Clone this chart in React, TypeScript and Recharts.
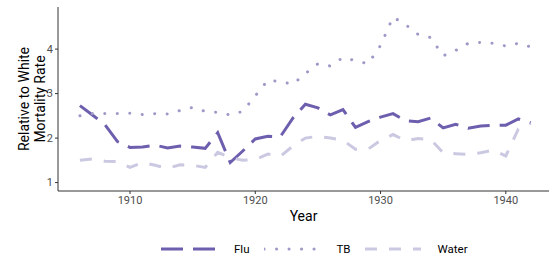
import { LineChart, Line, XAxis, YAxis, Legend } from "recharts";

const years = [
  1906, 1907, 1908, 1909, 1910, 1911, 1912, 1913, 1914, 1915, 1916, 1917, 1918,
  1919, 1920, 1921, 1922, 1923, 1924, 1925, 1926, 1927, 1928, 1929, 1930, 1931,
  1932, 1933, 1934, 1935, 1936, 1937, 1938, 1939, 1940, 1941, 1942,
];

const flu = [
  2.73, 2.52, 2.3, 1.92, 1.79, 1.8, 1.84, 1.78, 1.82, 1.8, 1.77, 2.12, 1.45,
  1.71, 1.98, 2.04, 2.03, 2.45, 2.76, 2.68, 2.52, 2.64, 2.24, 2.37, 2.47, 2.55,
  2.39, 2.37, 2.45, 2.23, 2.31, 2.22, 2.27, 2.29, 2.29, 2.43, 2.34,
];

const tb = [
  2.5, 2.55, 2.55, 2.55, 2.56, 2.53, 2.55, 2.54, 2.62, 2.69, 2.6, 2.58, 2.52,
  2.6, 2.95, 3.3, 3.27, 3.21, 3.45, 3.67, 3.62, 3.81, 3.74, 3.67, 4.08, 4.72,
  4.55, 4.33, 4.26, 3.85, 3.97, 4.13, 4.15, 4.13, 4.07, 4.13, 4.05,
];

const water = [
  1.5, 1.53, 1.48, 1.47, 1.34, 1.45, 1.39, 1.32, 1.4, 1.39, 1.34, 1.68, 1.56,
  1.5, 1.52, 1.64, 1.59, 1.82, 2.0, 2.04, 2.0, 1.95, 1.75, 1.75, 1.95, 2.08,
  1.94, 1.99, 1.97, 1.67, 1.65, 1.63, 1.67, 1.73, 1.6, 2.2, 2.33,
];

const xTicks = [1910, 1920, 1930, 1940];
const yTicks = [1, 2, 3, 4];

const series = [
  { key: "Flu", color: "#6E5EAE", dash: "22 10", cap: "butt" as const },
  { key: "TB", color: "#9E9AC8", dash: "0.1 12.4", cap: "round" as const },
  { key: "Water", color: "#CBC9E2", dash: "12 12", cap: "butt" as const },
];

const data = years.map((year, i) => ({
  year,
  Flu: flu[i],
  TB: tb[i],
  Water: water[i],
}));

const font = "Roboto, 'Liberation Sans', sans-serif";

function YLabel(props: any) {
  const { viewBox } = props;
  const cy = viewBox.y + viewBox.height / 2;
  return (
    <text
      transform={`translate(0, ${cy}) rotate(-90)`}
      textAnchor="middle"
      fontFamily={font}
      fontSize={14}
      fill="#000"
    >
      <tspan x={0} y={29}>Relative to White</tspan>
      <tspan x={0} y={45}>Mortality Rate</tspan>
    </text>
  );
}

function LegendContent() {
  return (
    <div
      style={{
        display: "flex",
        alignItems: "center",
        height: 20,
        paddingLeft: 161,
        fontFamily: font,
        fontSize: 11.5,
        color: "#000",
      }}
    >
      {series.map((s) => (
        <div key={s.key} style={{ display: "flex", alignItems: "center", marginRight: 14 }}>
          <svg width={56} height={20}>
            <line
              x1={0}
              y1={10}
              x2={56}
              y2={10}
              stroke={s.color}
              strokeWidth={3}
              strokeDasharray={s.dash}
              strokeLinecap={s.cap}
            />
          </svg>
          <span style={{ marginLeft: 17 }}>{s.key}</span>
        </div>
      ))}
    </div>
  );
}

export default function App() {
  return (
    <div style={{ position: "absolute", left: 0, top: 0, background: "#fff" }}>
      <LineChart
        width={549}
        height={261}
        data={data}
        margin={{ top: 7, right: 0, bottom: 2, left: 0 }}
      >
        <XAxis
          dataKey="year"
          type="number"
          domain={[1904.25, 1943.45]}
          allowDataOverflow
          ticks={xTicks}
          height={48}
          tick={{ fontSize: 11, fill: "#4D4D4D", fontFamily: font }}
          tickSize={3}
          tickMargin={2}
          stroke="#333"
          label={{
            value: "Year",
            position: "insideTop",
            offset: 20,
            fontSize: 14,
            fill: "#000",
            fontFamily: font,
          }}
        />
        <YAxis
          type="number"
          domain={[0.811, 4.946]}
          allowDataOverflow
          ticks={yTicks}
          width={58}
          tick={{ fontSize: 11, fill: "#4D4D4D", fontFamily: font }}
          tickSize={3}
          tickMargin={2}
          stroke="#333"
          label={<YLabel />}
        />
        <Legend verticalAlign="bottom" content={<LegendContent />} />
        {series.map((s) => (
          <Line
            key={s.key}
            type="linear"
            dataKey={s.key}
            stroke={s.color}
            strokeWidth={3}
            strokeDasharray={s.dash}
            strokeLinecap={s.cap}
            dot={false}
            activeDot={false}
            isAnimationActive={false}
          />
        ))}
      </LineChart>
    </div>
  );
}
